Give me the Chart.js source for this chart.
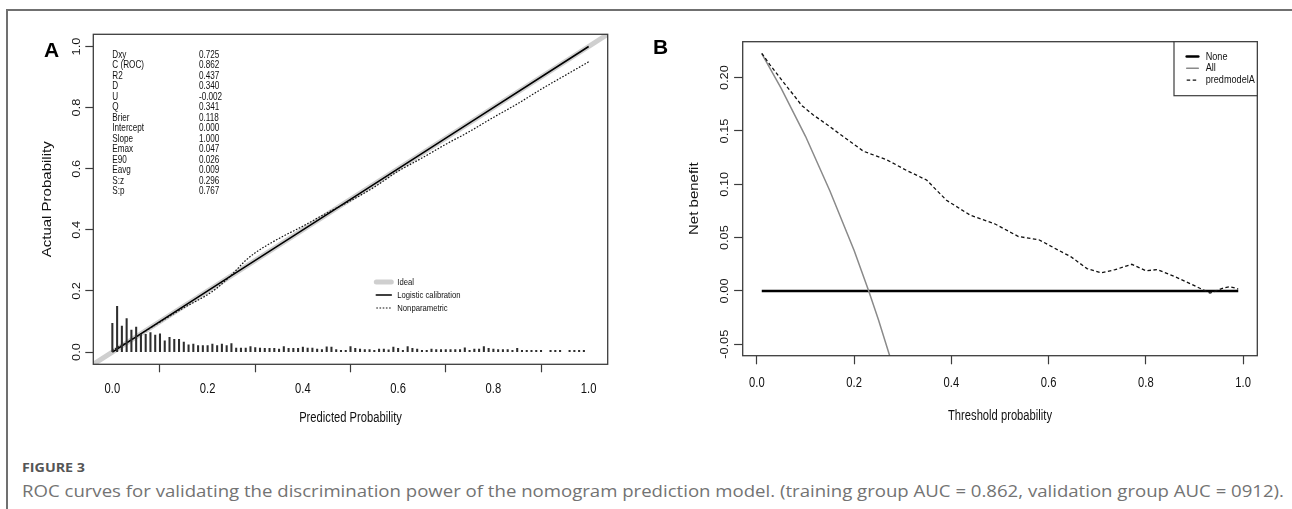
<!DOCTYPE html>
<html>
<head>
<meta charset="utf-8">
<script src="https://cdn.jsdelivr.net/npm/chart.js@4.4.0/dist/chart.umd.min.js"></script>
<style>
  html, body { margin: 0; padding: 0; background: #fff; }
  body { width: 1292px; height: 509px; position: relative; overflow: hidden; font-family: "Open Sans", sans-serif; }
  #frameTop { position: absolute; left: 6px; top: 9px; width: 1286px; height: 0; border-top: 2px solid #707070; }
  #frameLeft { position: absolute; left: 6px; top: 9px; width: 0; height: 500px; border-left: 2px solid #707070; }
  canvas { position: absolute; top: 0; }
  #chartA { left: 0; }
  #chartB { left: 650px; }
  .panel { position: absolute; font-family: "Liberation Sans", Arial, sans-serif; font-weight: bold; font-size: 21px; line-height: 1; color: #000; }
  #figNo { position: absolute; left: 22px; top: 461px; font-weight: bold; font-size: 13px; line-height: 1; color: #555; white-space: nowrap; }
  #caption { position: absolute; left: 22px; top: 482px; font-size: 17px; line-height: 1; color: #737373; white-space: nowrap; }
</style>
</head>
<body>
<div id="frameTop"></div>
<div id="frameLeft"></div>
<canvas id="chartA" width="650" height="440"></canvas>
<canvas id="chartB" width="642" height="440"></canvas>
<div class="panel" style="left:44px; top:39px;">A</div>
<div class="panel" style="left:653px; top:36px;">B</div>
<div id="figNo">FIGURE 3</div>
<div id="caption">ROC curves for validating the discrimination power of the nomogram prediction model. (training group AUC = 0.862, validation group AUC = 0912).</div>

<script>
var REG = '"Liberation Sans", Arial, sans-serif';
var SQUEEZE = 0.8;   // the R text in the figure is horizontally condensed

// ---- panel A : calibration ----
var xTicksA = [0, 0.2, 0.4, 0.6, 0.8, 1.0];
var xTickLabelsA = ['0.0', '0.2', '0.4', '0.6', '0.8', '1.0'];
var yTicksA = [0, 0.2, 0.4, 0.6, 0.8, 1.0];
var yTickLabelsA = ['0.0', '0.2', '0.4', '0.6', '0.8', '1.0'];

var idealX = [-0.05, 1.05];
var idealY = [-0.05, 1.05];
var logisticX = [0, 0.25, 0.5, 0.75, 1.0];
var logisticY = [0, 0.25, 0.5, 0.75, 1.0];
var nonparX = [0, 0.05, 0.10, 0.15, 0.20, 0.22, 0.25, 0.28, 0.30, 0.35, 0.40, 0.45, 0.50, 0.55, 0.60, 0.65, 0.70, 0.75, 0.80, 0.85, 0.90, 0.95, 1.0];
var nonparY = [0.005, 0.05, 0.098, 0.145, 0.188, 0.21, 0.252, 0.30, 0.325, 0.372, 0.412, 0.455, 0.495, 0.54, 0.592, 0.635, 0.68, 0.722, 0.768, 0.812, 0.86, 0.905, 0.95];

var spikeX = [0.00, 0.01, 0.02, 0.03, 0.04, 0.05, 0.06, 0.07, 0.08, 0.09,
              0.10, 0.11, 0.12, 0.13, 0.14, 0.15, 0.16, 0.17, 0.18, 0.19,
              0.20, 0.21, 0.22, 0.23, 0.24, 0.25, 0.26, 0.27, 0.28, 0.29,
              0.30, 0.31, 0.32, 0.33, 0.34, 0.35, 0.36, 0.37, 0.38, 0.39,
              0.40, 0.41, 0.42, 0.43, 0.44, 0.45, 0.46, 0.47, 0.48, 0.49,
              0.50, 0.51, 0.52, 0.53, 0.54, 0.55, 0.56, 0.57, 0.58, 0.59,
              0.60, 0.61, 0.62, 0.63, 0.64, 0.65, 0.66, 0.67, 0.68, 0.69,
              0.70, 0.71, 0.72, 0.73, 0.74, 0.75, 0.76, 0.77, 0.78, 0.79,
              0.80, 0.81, 0.82, 0.83, 0.84, 0.85, 0.86, 0.87, 0.88, 0.89,
              0.90, 0.92, 0.93, 0.94, 0.96, 0.97, 0.98, 0.99];
var spikeH = [0.094, 0.150, 0.085, 0.110, 0.072, 0.082, 0.058, 0.058, 0.064, 0.056,
              0.060, 0.037, 0.048, 0.042, 0.042, 0.033, 0.024, 0.026, 0.021, 0.021,
              0.021, 0.026, 0.021, 0.026, 0.021, 0.028, 0.013, 0.013, 0.013, 0.018,
              0.015, 0.013, 0.012, 0.012, 0.012, 0.010, 0.018, 0.012, 0.012, 0.012,
              0.016, 0.013, 0.013, 0.010, 0.008, 0.017, 0.016, 0.008, 0.006, 0.006,
              0.018, 0.012, 0.010, 0.008, 0.008, 0.006, 0.010, 0.010, 0.007, 0.016,
              0.012, 0.006, 0.018, 0.012, 0.010, 0.006, 0.006, 0.010, 0.008, 0.008,
              0.008, 0.008, 0.008, 0.008, 0.014, 0.006, 0.010, 0.010, 0.018, 0.012,
              0.010, 0.008, 0.008, 0.008, 0.006, 0.012, 0.006, 0.006, 0.006, 0.006,
              0.006, 0.006, 0.006, 0.006, 0.006, 0.006, 0.006, 0.006];

var statNames = ['Dxy', 'C (ROC)', 'R2', 'D', 'U', 'Q', 'Brier', 'Intercept', 'Slope', 'Emax', 'E90', 'Eavg', 'S:z', 'S:p'];
var statValues = ['0.725', '0.862', '0.437', '0.340', '-0.002', '0.341', '0.118', '0.000', '1.000', '0.047', '0.026', '0.009', '0.296', '0.767'];
var legendA = ['Ideal', 'Logistic calibration', 'Nonparametric'];

// ---- panel B : decision curve ----
var xTicksB = [0, 0.2, 0.4, 0.6, 0.8, 1.0];
var xTickLabelsB = ['0.0', '0.2', '0.4', '0.6', '0.8', '1.0'];
var yTicksB = [-0.05, 0, 0.05, 0.10, 0.15, 0.20];
var yTickLabelsB = ['-0.05', '0.00', '0.05', '0.10', '0.15', '0.20'];

var noneX = [0.01, 0.99];
var noneY = [0, 0];
var allX = [0.01, 0.05, 0.10, 0.15, 0.20, 0.23, 0.25, 0.30];
var allY = [0.2225, 0.190, 0.145, 0.094, 0.038, 0.000, -0.027, -0.100];
var modelX = [0.01, 0.027, 0.054, 0.075, 0.092, 0.116, 0.144, 0.174, 0.219, 0.267, 0.308, 0.349, 0.39, 0.439, 0.489, 0.538, 0.58, 0.621, 0.646, 0.679, 0.708, 0.737, 0.771, 0.80, 0.824, 0.862, 0.895, 0.932, 0.961, 0.973, 0.986, 0.99];
var modelY = [0.2228, 0.212, 0.196, 0.184, 0.174, 0.165, 0.156, 0.146, 0.131, 0.123, 0.113, 0.104, 0.085, 0.071, 0.063, 0.051, 0.048, 0.038, 0.032, 0.021, 0.017, 0.020, 0.025, 0.019, 0.020, 0.013, 0.006, -0.002, 0.003, 0.004, 0.0025, 0.0016];
var legendB = ['None', 'All', 'predmodelA'];

function pts(xs, ys) {
  return xs.map(function(x, i) { return { x: x, y: ys[i] }; });
}

// condensed text, optionally rotated to read bottom-to-top
function squeezeText(ctx, txt, x, y, size, align, baseline, rotate) {
  ctx.save();
  ctx.font = size + 'px ' + REG;
  ctx.textAlign = align;
  ctx.textBaseline = baseline || 'alphabetic';
  ctx.translate(x, y);
  ctx.scale(SQUEEZE, 1);
  if (rotate) ctx.rotate(-Math.PI / 2);
  ctx.fillText(txt, 0, 0);
  ctx.restore();
}

function sampleLine(ctx, ds, x1, x2, y) {
  ctx.save();
  ctx.strokeStyle = ds.borderColor;
  ctx.lineWidth = ds.borderWidth;
  ctx.setLineDash(ds.borderDash || []);
  ctx.lineCap = ds.borderDash ? 'butt' : 'round';
  ctx.beginPath();
  ctx.moveTo(x1, y);
  ctx.lineTo(x2, y);
  ctx.stroke();
  ctx.restore();
}

function findDs(chart, label) {
  return chart.data.datasets.filter(function(d) { return d.label === label; })[0];
}

var boxPlugin = {
  id: 'rbox',
  afterDraw: function(chart) {
    var a = chart.chartArea, ctx = chart.ctx;
    ctx.save();
    ctx.strokeStyle = '#3c3c3c';
    ctx.lineWidth = 1.3;
    ctx.strokeRect(a.left, a.top, a.right - a.left, a.bottom - a.top);
    ctx.restore();
  }
};

// tick labels and axis titles, placed from the chart's own scales
function axisText(c) {
  return {
    id: 'axisText',
    afterDraw: function(chart) {
      var sx = chart.scales.x, sy = chart.scales.y, a = chart.chartArea, ctx = chart.ctx;
      ctx.save();
      ctx.fillStyle = '#111';
      c.xTicks.forEach(function(v, i) {
        squeezeText(ctx, c.xLabels[i], sx.getPixelForValue(v), a.bottom + c.xLabelDy, 14, 'center');
      });
      squeezeText(ctx, c.xTitle, (a.left + a.right) / 2, a.bottom + c.xTitleDy, 14, 'center');
      c.yTicks.forEach(function(v, i) {
        squeezeText(ctx, c.yLabels[i], a.left - c.yLabelDx, sy.getPixelForValue(v), 12.8, 'center', 'alphabetic', true);
      });
      squeezeText(ctx, c.yTitle, a.left - c.yTitleDx, (a.top + a.bottom) / 2, 15, 'center', 'middle', true);
      ctx.restore();
    }
  };
}

var extrasA = {
  id: 'extrasA',
  afterDraw: function(chart) {
    var a = chart.chartArea, ctx = chart.ctx;
    ctx.save();
    ctx.fillStyle = '#111';
    statNames.forEach(function(n, i) {
      var y = a.top + 20.5 + i * 10.52;
      squeezeText(ctx, n, a.left + 19, y, 10.2, 'left', 'middle');
      squeezeText(ctx, statValues[i], a.left + 105.7, y, 10.2, 'left', 'middle');
    });
    legendA.forEach(function(lab, i) {
      var y = a.top + 247.7 + i * 13;
      sampleLine(ctx, findDs(chart, lab), a.left + 283, a.left + 298, y);
      squeezeText(ctx, lab, a.left + 304, y, 9.6, 'left', 'middle');
    });
    ctx.restore();
  }
};

var extrasB = {
  id: 'extrasB',
  afterDraw: function(chart) {
    var a = chart.chartArea, ctx = chart.ctx;
    ctx.save();
    ctx.strokeStyle = '#3c3c3c';
    ctx.lineWidth = 1.2;
    ctx.fillStyle = '#fff';
    ctx.fillRect(a.right - 83.3, a.top, 83.3, 54);
    ctx.strokeRect(a.right - 83.3, a.top, 83.3, 54);
    ctx.fillStyle = '#111';
    legendB.forEach(function(lab, i) {
      var y = a.top + 14.8 + i * 11.8;
      sampleLine(ctx, findDs(chart, lab), a.right - 70.6, a.right - 59, y);
      squeezeText(ctx, lab, a.right - 51.6, y, 11.4, 'left', 'middle');
    });
    ctx.restore();
  }
};

function rAxis(o) {
  return {
    type: 'linear',
    min: o.min,
    max: o.max,
    offset: false,
    afterBuildTicks: function(s) { s.ticks = o.ticks.map(function(v) { return { value: v }; }); },
    afterFit: o.fit,
    grid: { drawOnChartArea: false, drawTicks: true, tickLength: o.tickLength, tickColor: '#3c3c3c', tickWidth: 1.2 },
    border: { display: false },
    ticks: { display: false, autoSkip: false },
    title: { display: false }
  };
}

new Chart(document.getElementById('chartA'), {
  type: 'line',
  data: {
    datasets: [
      { type: 'bar', label: 'spikes', data: pts(spikeX, spikeH), backgroundColor: '#2e2e2e', barThickness: 1.4, order: 1 },
      { label: 'Nonparametric', data: pts(nonparX, nonparY), borderColor: '#111', borderWidth: 1.2, borderDash: [1.6, 1.6], pointRadius: 0, cubicInterpolationMode: 'monotone', order: 2 },
      { label: 'Logistic calibration', data: pts(logisticX, logisticY), borderColor: '#000', borderWidth: 1.6, pointRadius: 0, order: 3 },
      { label: 'Ideal', data: pts(idealX, idealY), borderColor: '#cfcfcf', borderWidth: 5, pointRadius: 0, order: 4 }
    ]
  },
  options: {
    responsive: false,
    animation: false,
    devicePixelRatio: 1,
    layout: { padding: { top: 34.3, right: 42.3, left: 0, bottom: 0 } },
    plugins: { legend: { display: false }, tooltip: { enabled: false } },
    scales: {
      x: rAxis({ min: -0.04, max: 1.04, ticks: xTicksA, tickLength: 8, fit: function(s) { s.height = 75.7; } }),
      y: rAxis({ min: -0.04, max: 1.04, ticks: yTicksA, tickLength: 8, fit: function(s) { s.width = 93.3; } })
    }
  },
  plugins: [boxPlugin, extrasA, axisText({
    xTicks: xTicksA, xLabels: xTickLabelsA, xLabelDy: 28.4, xTitle: 'Predicted Probability', xTitleDy: 57.5,
    yTicks: yTicksA, yLabels: yTickLabelsA, yLabelDx: 13.3, yTitle: 'Actual Probability', yTitleDx: 45.3
  })]
});

new Chart(document.getElementById('chartB'), {
  type: 'line',
  data: {
    datasets: [
      { label: 'None', data: pts(noneX, noneY), borderColor: '#000', borderWidth: 2.6, pointRadius: 0, order: 3 },
      { label: 'All', data: pts(allX, allY), borderColor: '#8a8a8a', borderWidth: 1.5, pointRadius: 0, order: 2 },
      { label: 'predmodelA', data: pts(modelX, modelY), borderColor: '#111', borderWidth: 1.3, borderDash: [3.5, 2.5], pointRadius: 0, order: 1 }
    ]
  },
  options: {
    responsive: false,
    animation: false,
    devicePixelRatio: 1,
    layout: { padding: { top: 41.7, right: 34.7, left: 0, bottom: 0 } },
    plugins: { legend: { display: false }, tooltip: { enabled: false } },
    scales: {
      x: rAxis({ min: -0.0292, max: 1.0292, ticks: xTicksB, tickLength: 8.6, fit: function(s) { s.height = 84.3; } }),
      y: rAxis({ min: -0.0607, max: 0.2337, ticks: yTicksB, tickLength: 8.6, fit: function(s) { s.width = 92.7; } })
    }
  },
  plugins: [boxPlugin, extrasB, axisText({
    xTicks: xTicksB, xLabels: xTickLabelsB, xLabelDy: 31, xTitle: 'Threshold probability', xTitleDy: 63.8,
    yTicks: yTicksB, yLabels: yTickLabelsB, yLabelDx: 14.4, yTitle: 'Net benefit', yTitleDx: 47.7
  })]
});

function fitWidth(id, target) {
  var el = document.getElementById(id);
  var w = el.getBoundingClientRect().width;
  el.style.transformOrigin = '0 0';
  el.style.transform = 'scaleX(' + (target / w) + ')';
}
fitWidth('caption', 1262);
fitWidth('figNo', 63);
</script>
</body>
</html>
